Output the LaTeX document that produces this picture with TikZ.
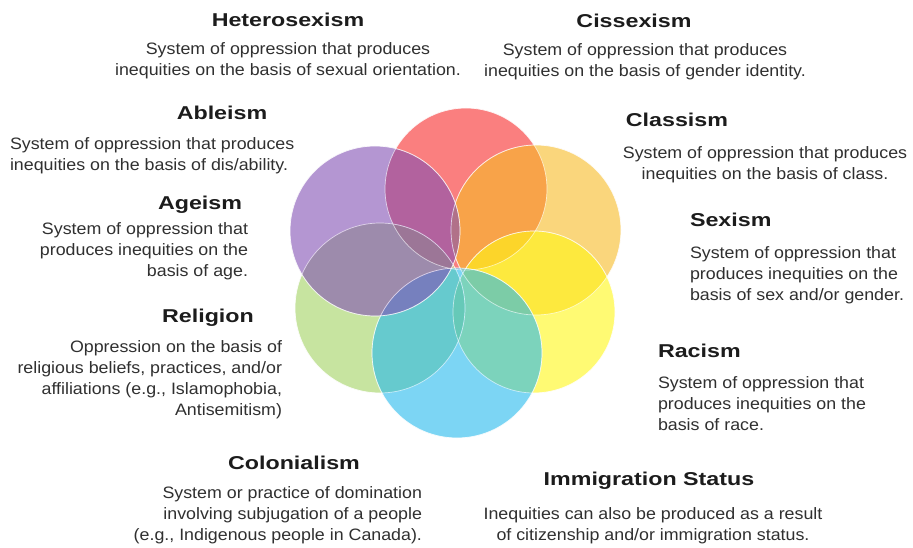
\documentclass[tikz,border=0pt]{standalone}
\usepackage{fontspec}
\setmainfont{Liberation Sans}
\newfontfamily\headfont[FakeStretch=1.25]{Liberation Sans}
\newfontfamily\bodyfont[FakeStretch=1.08]{Liberation Sans}
\usetikzlibrary{positioning}
\definecolor{headgrey}{RGB}{28,28,28}
\definecolor{bodygrey}{RGB}{48,48,48}
\definecolor{petalred}{RGB}{247,43,43}
\definecolor{petalorange}{RGB}{248,187,38}
\definecolor{petalyellow}{RGB}{255,247,22}
\definecolor{petalgreen}{RGB}{163,210,97}
\definecolor{petalblue}{RGB}{38,185,238}
\definecolor{petalpurple}{RGB}{130,80,180}

\begin{document}
\begin{tikzpicture}[x=1pt,y=1pt]
\tikzstyle{petal}=[fill opacity=0.6,draw=white,draw opacity=0.6,line width=0.7pt]
\tikzstyle{title}=[inner sep=0pt,outer sep=0pt,anchor=base,text depth=0pt,
text=headgrey,font=\headfont\bfseries\fontsize{18.6}{22}\selectfont]
\tikzstyle{body}=[inner sep=0pt,outer sep=0pt,
text=bodygrey,font=\bodyfont\fontsize{16.5}{21}\selectfont]

\fill[white] (0,0) rectangle (913,-548);
\useasboundingbox (0,0) rectangle (913,-548);

\fill[petal,fill=petalred]    (466,-189) circle (81);
\fill[petal,fill=petalorange] (536,-230) circle (85);
\fill[petal,fill=petalyellow] (534,-312) circle (81);
\fill[petal,fill=petalgreen]  (380,-308) circle (85);
\fill[petal,fill=petalblue]   (457,-353) circle (85);
\fill[petal,fill=petalpurple] (375,-231) circle (85);
\draw[petal,fill=none] (466,-189) circle (81);
\draw[petal,fill=none] (536,-230) circle (85);
\draw[petal,fill=none] (534,-312) circle (81);
\draw[petal,fill=none] (380,-308) circle (85);
\draw[petal,fill=none] (457,-353) circle (85);
\draw[petal,fill=none] (375,-231) circle (85);

\node[title] at (288,-27) (heteroT) {Heterosexism};
\node[body,align=center,below=16pt of heteroT] (heteroB)
{System of oppression that produces\\inequities on the basis of sexual orientation.};

\node[title] at (634,-28) (cisT) {Cissexism};
\node[body,align=center,below=16pt of cisT,xshift=11pt] (cisB)
{System of oppression that produces\\inequities on the basis of gender identity.};

\node[title] at (222,-120) (ableT) {Ableism};
\node[body,align=left,anchor=north west] at (10,-138) (ableB)
{System of oppression that produces\\inequities on the basis of dis/ability.};

\node[title] at (677,-127) (classT) {Classism};
\node[body,align=center,anchor=north] at (765,-147) (classB)
{System of oppression that produces\\inequities on the basis of class.};

\node[title] at (200,-210) (ageT) {Ageism};
\node[body,align=right,anchor=north east] at (248,-223) (ageB)
{System of oppression that\\produces inequities on the\\basis of age.};

\node[title,anchor=base west] at (690,-227) (sexT) {Sexism};
\node[body,align=left,below=20pt of sexT.south west,anchor=north west] (sexB)
{System of oppression that\\produces inequities on the\\basis of sex and/or gender.};

\node[title] at (208,-322) (relT) {Religion};
\node[body,align=right,anchor=north east] at (282,-341) (relB)
{Oppression on the basis of\\religious beliefs, practices, and/or\\affiliations (e.g., Islamophobia,\\Antisemitism)};

\node[title,anchor=base west] at (658,-357) (racT) {Racism};
\node[body,align=left,below=20pt of racT.south west,anchor=north west] (racB)
{System of oppression that\\produces inequities on the\\basis of race.};

\node[title] at (294,-469) (colT) {Colonialism};
\node[body,align=right,anchor=north east] at (422,-487) (colB)
{System or practice of domination\\involving subjugation of a people\\(e.g., Indigenous people in Canada).};

\node[title] at (649,-485) (immT) {Immigration Status};
\node[body,align=center,below=23pt of immT,xshift=4pt] (immB)
{Inequities can also be produced as a result\\of citizenship and/or immigration status.};

\end{tikzpicture}
\end{document}
